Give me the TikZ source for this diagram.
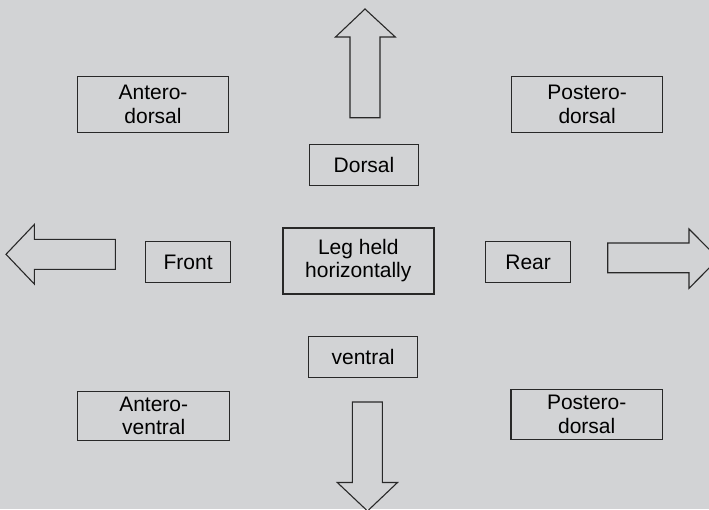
\documentclass[tikz,border=0pt]{standalone}
\usepackage{fontspec}
\setmainfont{Liberation Sans}
\definecolor{bg}{RGB}{210,211,213}
\definecolor{ink}{RGB}{40,40,40}
\begin{document}
\begin{tikzpicture}[x=1pt,y=-1pt,
  tag/.style={draw=ink, line width=1.1pt, text=black, align=center,
    inner sep=0pt, font=\fontsize{21}{23.5}\selectfont},
  blockarrow/.style={draw=ink, line width=1.1pt, line join=miter}]
  % canvas
  \fill[bg] (0,0) rectangle (709,509);
  \useasboundingbox (0,0) rectangle (709,509);
  \clip (0,0) rectangle (709,509);

  % direction labels
  \node[tag, minimum width=150.5pt, minimum height=55.6pt] (ad) at (153,104.5) {Antero-\\dorsal};
  \node[tag, minimum width=150.6pt, minimum height=55.6pt] (pd) at (587.1,104.5) {Postero-\\dorsal};
  \node[tag, minimum width=108.5pt, minimum height=41.3pt] (dorsal) at (364,164.7) {Dorsal};
  \node[tag, line width=2pt, minimum width=150.6pt, minimum height=66pt] (leg) at (358.3,260.7) {Leg held\\horizontally};
  \node[tag, minimum width=85pt, minimum height=41.4pt] (front) at (188.1,262) {Front};
  \node[tag, minimum width=85pt, minimum height=41.4pt] (rear) at (528.1,262) {Rear};
  \node[tag, minimum width=109.4pt, minimum height=41.4pt] (ventral) at (363.1,357) {ventral};
  \node[tag, minimum width=152pt, minimum height=48.7pt] (av) at (153.7,415.7) {Antero-\\ventral};
  \node[tag, minimum width=151.4pt, minimum height=49.3pt] (pv) at (586.7,414.4) {Postero-\\dorsal};

  % block arrows
  \draw[blockarrow] (350,117.7) -- (350,37) -- (335.5,37) -- (365,9) -- (395.3,37) -- (380,37) -- (380,117.7) -- cycle;
  \draw[blockarrow] (115.3,239.3) -- (34.3,239.3) -- (34.3,224.5) -- (6,254.3) -- (34.3,284) -- (34.3,269.3) -- (115.3,269.3) -- cycle;
  \draw[blockarrow] (607.7,243) -- (689,243) -- (689,229) -- (718.5,258.6) -- (689,288.3) -- (689,272.7) -- (607.7,272.7) -- cycle;
  \draw[blockarrow] (352.3,402) -- (352.3,482.5) -- (337.3,482.5) -- (367.5,511) -- (397.5,482.5) -- (382.3,482.5) -- (382.3,402) -- cycle;
\end{tikzpicture}
\end{document}
